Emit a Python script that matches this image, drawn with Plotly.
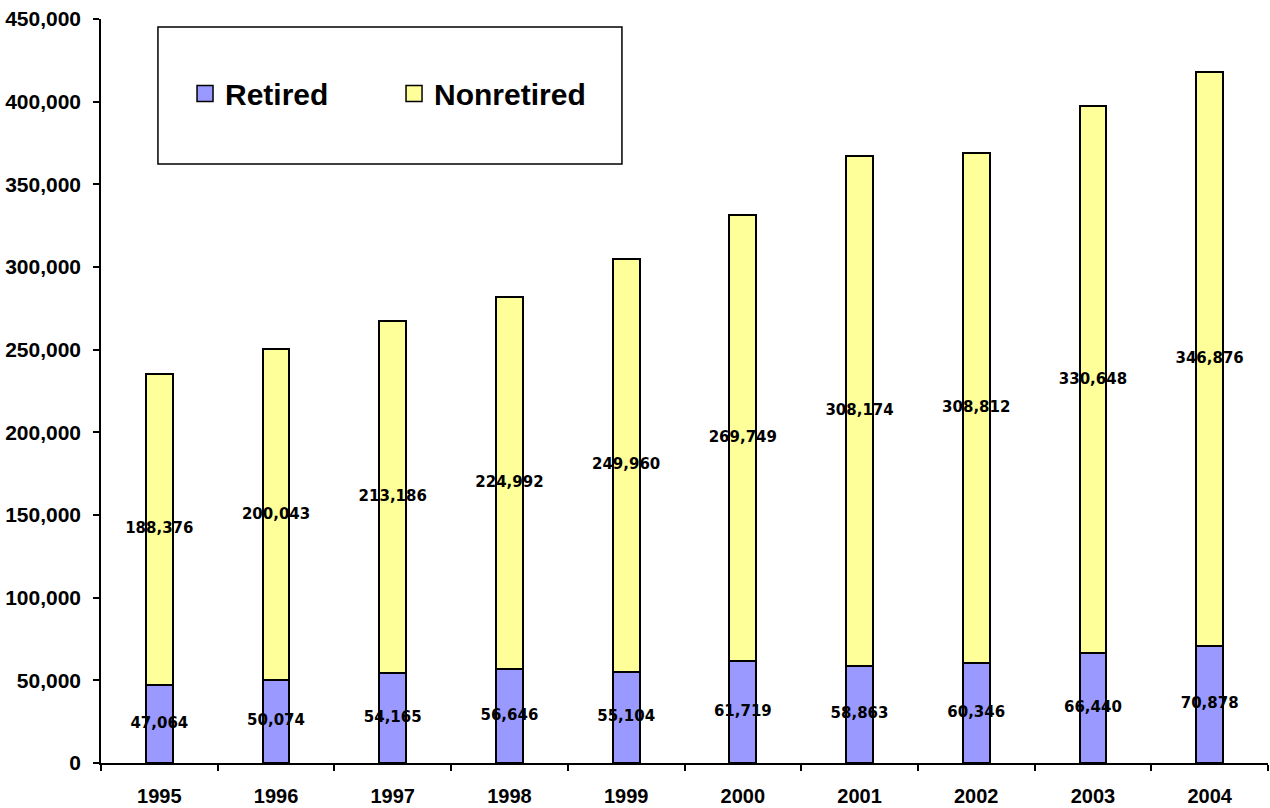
import plotly.graph_objects as go

years = ["1995", "1996", "1997", "1998", "1999", "2000", "2001", "2002", "2003", "2004"]
retired = [47064, 50074, 54165, 56646, 55104, 61719, 58863, 60346, 66440, 70878]
nonretired = [188376, 200043, 213186, 224992, 249960, 269749, 308174, 308812, 330648, 346876]
y_ticks = [0, 50000, 100000, 150000, 200000, 250000, 300000, 350000, 400000, 450000]

RET_COLOR = "#9999FF"
NON_COLOR = "#FFFF99"
FONT = "Liberation Sans, Arial, sans-serif"

fig = go.Figure()
fig.add_trace(go.Bar(x=years, y=retired, name="Retired", marker=dict(color=RET_COLOR, line=dict(color="black", width=2)), showlegend=False))
fig.add_trace(go.Bar(x=years, y=nonretired, name="Nonretired", marker=dict(color=NON_COLOR, line=dict(color="black", width=2)), showlegend=False))

# legend entries
for name, col in [("Retired", RET_COLOR), ("Nonretired", NON_COLOR)]:
    fig.add_trace(go.Scatter(x=[years[0]], y=[None], mode="markers", name=name,
                             marker=dict(symbol="square", size=20, color=col, line=dict(color="black", width=1.5))))

# data labels centered in segments
lab_font = dict(family="DejaVu Sans", size=15, color="black", weight="bold")
ret_mid = [r / 2 for r in retired]
non_mid = [r + n / 2 for r, n in zip(retired, nonretired)]
fig.add_trace(go.Scatter(x=years, y=ret_mid, mode="text", text=[f"{v:,}" for v in retired],
                         textfont=lab_font, showlegend=False, hoverinfo="skip", cliponaxis=False))
fig.add_trace(go.Scatter(x=years, y=non_mid, mode="text", text=[f"{v:,}" for v in nonretired],
                         textfont=lab_font, showlegend=False, hoverinfo="skip", cliponaxis=False))

# legend box
fig.add_shape(type="rect", xref="paper", yref="paper", x0=0.0488, x1=0.4464, y0=0.8051, y1=0.9892,
              line=dict(color="black", width=1.5), fillcolor="white", layer="below")

fig.update_layout(
    barmode="stack",
    bargap=0.77,
    width=1270, height=808,
    margin=dict(l=101, r=2, t=19, b=45, autoexpand=False),
    plot_bgcolor="white", paper_bgcolor="white",
    font=dict(family=FONT, color="black"),
    showlegend=True,
    legend=dict(orientation="h", traceorder="normal", x=0.072, xanchor="left", y=0.9, yanchor="middle",
                font=dict(family=FONT, size=30, color="black", weight="bold"),
                bgcolor="rgba(0,0,0,0)", borderwidth=0, entrywidth=164, itemclick=False),
    xaxis=dict(type="category", range=[-0.5, 9.5], showline=True, linecolor="black", linewidth=1.5,
               ticks="outside", ticklen=6,
               tickwidth=1.5, tickcolor="black", tickson="boundaries", ticklabelstandoff=14,
               tickfont=dict(family=FONT, size=20, color="black", weight="bold"), showgrid=False,
               automargin=False),
    yaxis=dict(range=[0, 450000], tickvals=y_ticks, tickformat=",d", showline=True, linecolor="black",
               linewidth=1.5, ticks="outside", ticklen=6, tickwidth=1.5, tickcolor="black",
               ticklabelstandoff=8, showgrid=False, zeroline=False, automargin=False,
               tickfont=dict(family=FONT, size=21, color="black", weight="bold")),
)

fig.write_html("out.html")
